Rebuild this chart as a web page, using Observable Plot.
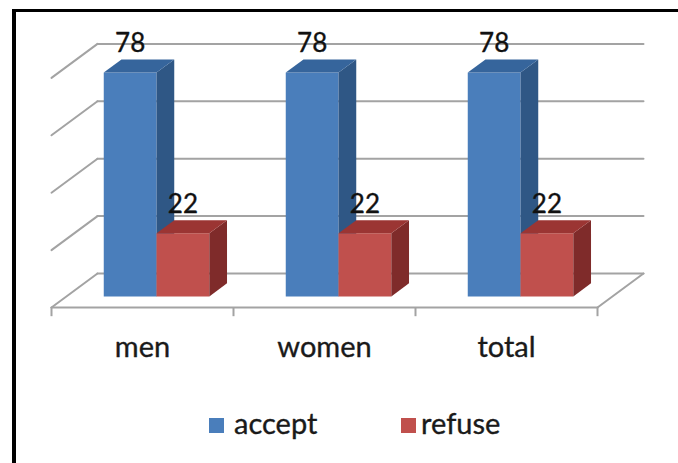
<!DOCTYPE html>
<html>
<head>
<meta charset="utf-8">
<script src="https://cdn.jsdelivr.net/npm/d3@7"></script>
<script src="https://cdn.jsdelivr.net/npm/@observablehq/plot@0.6"></script>
<style>
  html, body { margin: 0; padding: 0; background: #fff; }
  body { width: 678px; height: 463px; position: relative; overflow: hidden; font-family: Lato, "Open Sans", sans-serif; }
  #frame { position: absolute; left: 12px; top: 9px; width: 700px; height: 500px;
           border-left: 4px solid #000; border-top: 3px solid #000; box-sizing: border-box; }
  #chart { position: absolute; left: 0; top: 0; }
  #legend { position: absolute; left: 0; top: 403px; width: 678px; height: 40px; }
  .swatch { position: absolute; top: 15px; width: 15px; height: 15px; }
  .name { position: absolute; top: 0; font-size: 29px; color: #1a1a1a; line-height: 40px; white-space: nowrap;
          -webkit-text-stroke: 0.35px #1a1a1a; }
</style>
</head>
<body>
<div id="frame"></div>
<div id="chart"></div>
<div id="legend"></div>
<script>
// Survey answers by group (percent)
const categories = ["men", "women", "total"];
const seriesNames = ["accept", "refuse"];
const acceptValues = [78, 78, 78];
const refuseValues = [22, 22, 22];
const gridValues = [0, 20, 40, 60, 80];

// Colours of each series: front, side and top faces
const palette = {
  accept: {front: "#4a7ebb", side: "#2f5785", top: "#36659c"},
  refuse: {front: "#c0504d", side: "#7f2b2a", top: "#9b3533"}
};

// Oblique 3-D projection in data units: depth d (0 = front, 1 = back wall)
const DX = 0.2527;   // category units per unit depth
const DY = 11.85;    // value units per unit depth
const P = (c, v, d) => ({x: c + d * DX, y: v + d * DY});

// Bar placement inside each category band
const BAR_START = 0.205, BAR_W = 0.29, D0 = 0.325, D1 = 0.71;

const valuesBySeries = {accept: acceptValues, refuse: refuseValues};
const faces = [];
const labels = [];
categories.forEach((cat, i) => {
  seriesNames.forEach((s, k) => {
    const v = valuesBySeries[s][i];
    const x0 = i + BAR_START + k * BAR_W, x1 = x0 + BAR_W;
    const add = (face, pts) => pts.forEach(p => faces.push({...p, id: `${cat}-${s}-${face}`, fill: palette[s][face]}));
    add("front", [P(x0, 0, D0), P(x1, 0, D0), P(x1, v, D0), P(x0, v, D0)]);
    add("side",  [P(x1, 0, D0), P(x1, 0, D1), P(x1, v, D1), P(x1, v, D0)]);
    add("top",   [P(x0, v, D0), P(x1, v, D0), P(x1, v, D1), P(x0, v, D1)]);
    const front = P((x0 + x1) / 2, 0, D0);
    const back = P(x1, v, D1);
    labels.push({x: front.x, y: back.y, text: String(v)});
  });
});

// Walls and floor
const wallLines = [];
gridValues.forEach(g => {
  // left wall slant
  wallLines.push({...P(0, g, 0), id: `l${g}`});
  wallLines.push({...P(0, g, 1), id: `l${g}`});
  // back wall
  wallLines.push({...P(0, g, 1), id: `b${g}`});
  wallLines.push({...P(categories.length, g, 1), id: `b${g}`});
});
// floor front and right edges
const floorLines = [
  {...P(0, 0, 0), id: "f"}, {...P(categories.length, 0, 0), id: "f"},
  {...P(categories.length, 0, 0), id: "r"}, {...P(categories.length, 0, 1), id: "r"}
];
const tickPositions = d3.range(categories.length + 1);

const chart = Plot.plot({
  width: 678,
  height: 400,
  margin: 0,
  x: {type: "linear", domain: [0, categories.length], range: [51, 597], axis: null},
  y: {type: "linear", domain: [0, 80], range: [307, 307 - 80 * 2.87], axis: null},
  marks: [
    Plot.line(wallLines, {x: "x", y: "y", z: "id", stroke: "#a3a3a3", strokeWidth: 2}),
    Plot.line(floorLines, {x: "x", y: "y", z: "id", stroke: "#a3a3a3", strokeWidth: 2}),
    Plot.ruleX(tickPositions, {x: d => d, y1: 0, y2: -3.2, stroke: "#a3a3a3", strokeWidth: 2}),
    Plot.line(faces, {x: "x", y: "y", z: "id", fill: "fill", stroke: null}),
    Plot.text(labels, {x: "x", y: "y", text: "text", dy: -16, fontSize: 26, fill: "#111",
      stroke: "#111", strokeWidth: 0.35,
      fontFamily: "Lato, sans-serif", textAnchor: "middle", lineAnchor: "middle"}),
    Plot.text(categories, {x: (d, i) => i + 0.5, y: 0, text: d => d, dy: 40, fontSize: 29, fill: "#1a1a1a",
      stroke: "#1a1a1a", strokeWidth: 0.35,
      fontFamily: "Lato, sans-serif", textAnchor: "middle", lineAnchor: "middle"})
  ]
});
document.getElementById("chart").appendChild(chart);

// Legend below the plot
const legend = document.getElementById("legend");
const swatchX = {accept: 209, refuse: 401};
const nameX = {accept: 234, refuse: 421};
seriesNames.forEach(s => {
  const sw = document.createElement("div");
  sw.className = "swatch";
  sw.style.left = swatchX[s] + "px";
  sw.style.background = palette[s].front;
  legend.appendChild(sw);
  const name = document.createElement("div");
  name.className = "name";
  name.style.left = nameX[s] + "px";
  name.textContent = s;
  legend.appendChild(name);
});
</script>
</body>
</html>
